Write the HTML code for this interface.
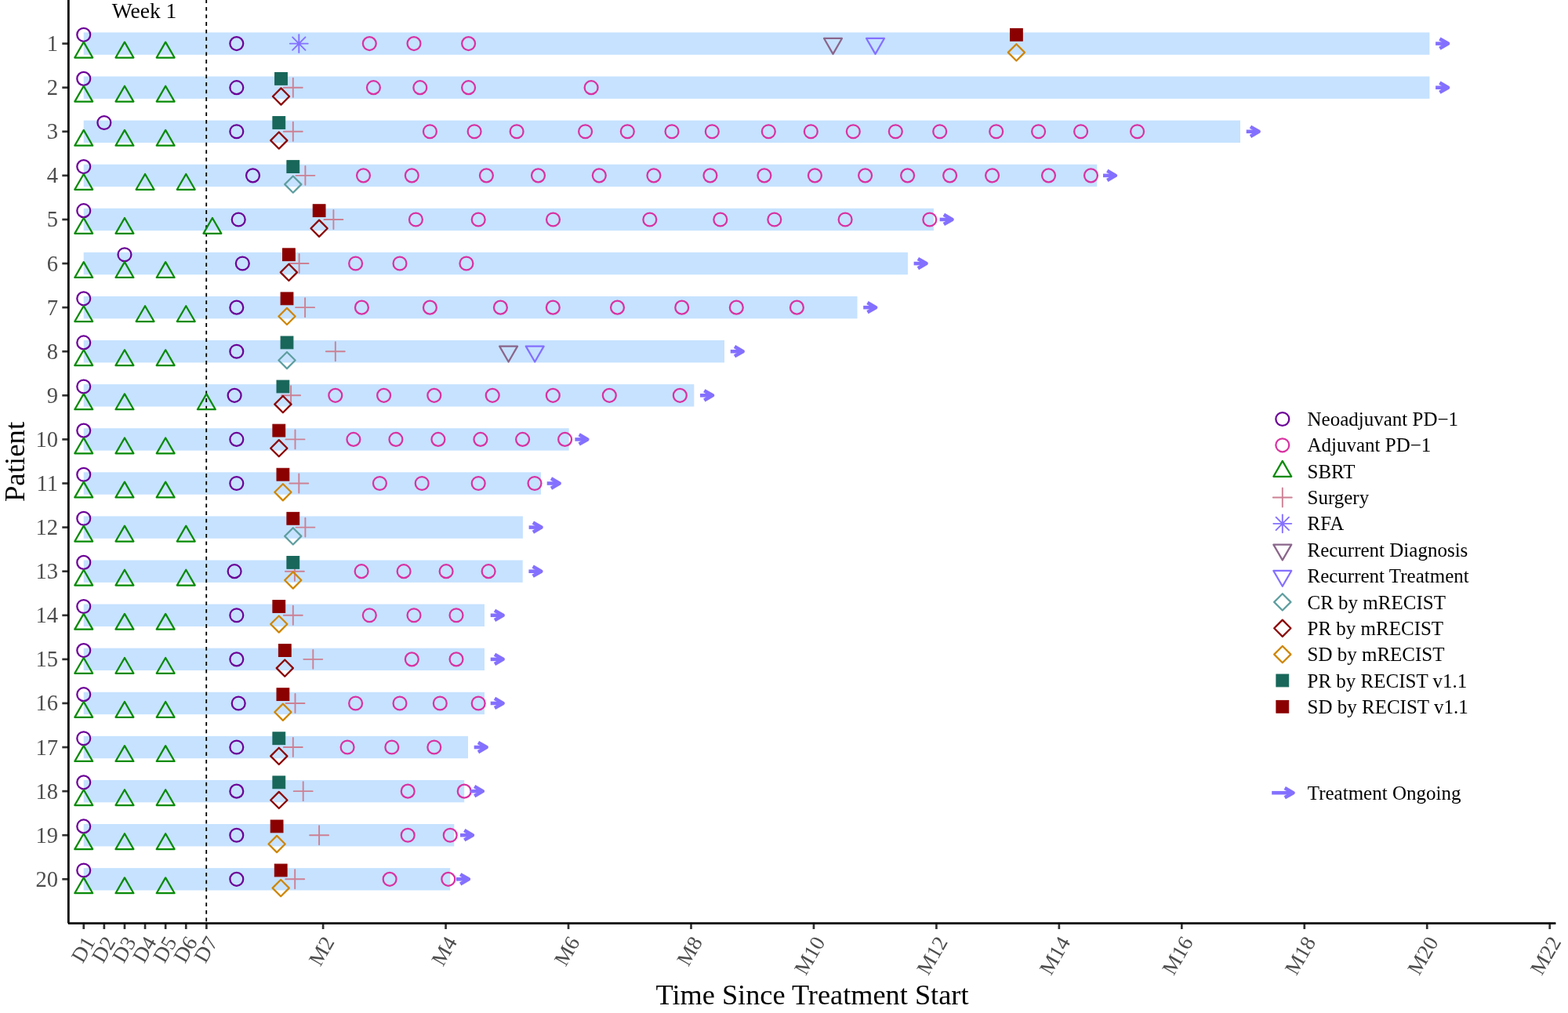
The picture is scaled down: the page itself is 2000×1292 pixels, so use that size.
<!DOCTYPE html>
<html><head><meta charset="utf-8"><title>Swimmer plot</title>
<style>
html,body{margin:0;padding:0;background:#fff;}
svg{display:block;}
text{font-family:"Liberation Serif","DejaVu Serif",serif;}
.neo{fill:none;stroke:#6C0098;stroke-width:2.25;}
.adj{fill:none;stroke:#D932A2;stroke-width:2.25;}
.sbrt{fill:none;stroke:#078A07;stroke-width:2.25;stroke-linejoin:round;}
.rdiag{fill:none;stroke:#8B668B;stroke-width:2.25;stroke-linejoin:round;}
.rtreat{fill:none;stroke:#8470FF;stroke-width:2.25;stroke-linejoin:round;}
.cr{fill:none;stroke:#5F9EA0;stroke-width:2.25;stroke-linejoin:round;}
.prm{fill:none;stroke:#8B0000;stroke-width:2.25;stroke-linejoin:round;}
.sdm{fill:none;stroke:#CF8602;stroke-width:2.25;stroke-linejoin:round;}
.prr{fill:#18675A;stroke:#18675A;stroke-width:1;}
.sdr{fill:#8B0000;stroke:#8B0000;stroke-width:1;}
.surg{fill:none;stroke:#CD8094;stroke-width:1.9;stroke-linecap:round;}
.rfa{fill:none;stroke:#8470FF;stroke-width:1.9;stroke-linecap:round;}
.arr{fill:none;stroke:#8470FF;stroke-width:4.6;}
.arrh{fill:none;stroke:#8470FF;stroke-width:4.6;stroke-linejoin:round;}
.bar{fill:#C6E2FF;}
.tk{stroke:#333;stroke-width:2.7;}
.yl{font-size:28.6px;fill:#4D4D4D;text-anchor:end;}
.xl{font-size:27px;fill:#4D4D4D;text-anchor:end;}
.lg{font-size:25px;fill:#000;}
</style></head><body>
<svg width="2000" height="1292" viewBox="0 0 2000 1292">
<rect width="2000" height="1292" fill="#fff"/>

<rect class="bar" x="106.7" y="41.4" width="1716.7" height="28.4"/>
<rect class="bar" x="106.7" y="97.49" width="1716.7" height="28.4"/>
<rect class="bar" x="106.7" y="153.58" width="1475.3" height="28.4"/>
<rect class="bar" x="106.7" y="209.67" width="1292.6" height="28.4"/>
<rect class="bar" x="106.7" y="265.76" width="1084.2" height="28.4"/>
<rect class="bar" x="106.7" y="321.85" width="1051.2" height="28.4"/>
<rect class="bar" x="106.7" y="377.94" width="986.8" height="28.4"/>
<rect class="bar" x="106.7" y="434.03" width="817.3" height="28.4"/>
<rect class="bar" x="106.7" y="490.12" width="778.6" height="28.4"/>
<rect class="bar" x="106.7" y="546.21" width="619" height="28.4"/>
<rect class="bar" x="106.7" y="602.3" width="583.3" height="28.4"/>
<rect class="bar" x="106.7" y="658.39" width="560.2" height="28.4"/>
<rect class="bar" x="106.7" y="714.48" width="560" height="28.4"/>
<rect class="bar" x="106.7" y="770.57" width="511.3" height="28.4"/>
<rect class="bar" x="106.7" y="826.66" width="511.3" height="28.4"/>
<rect class="bar" x="106.7" y="882.75" width="511.3" height="28.4"/>
<rect class="bar" x="106.7" y="938.84" width="490.3" height="28.4"/>
<rect class="bar" x="106.7" y="994.93" width="485.5" height="28.4"/>
<rect class="bar" x="106.7" y="1051.02" width="472.6" height="28.4"/>
<rect class="bar" x="106.7" y="1107.11" width="467.5" height="28.4"/>
<line x1="263.2" y1="0" x2="263.2" y2="1176" stroke="#000" stroke-width="1.8" stroke-dasharray="4.8 4.8" stroke-dashoffset="0.7"/>
<text x="184.1" y="22.9" font-size="27.5" text-anchor="middle">Week 1</text>
<circle cx="106.75" cy="44.3" r="8.45" class="neo"/>
<circle cx="301.8" cy="55.6" r="8.45" class="neo"/>
<circle cx="106.75" cy="100.39" r="8.45" class="neo"/>
<circle cx="301.8" cy="111.69" r="8.45" class="neo"/>
<circle cx="132.85" cy="156.48" r="8.45" class="neo"/>
<circle cx="301.8" cy="167.78" r="8.45" class="neo"/>
<circle cx="106.75" cy="212.57" r="8.45" class="neo"/>
<circle cx="322.5" cy="223.87" r="8.45" class="neo"/>
<circle cx="106.75" cy="268.66" r="8.45" class="neo"/>
<circle cx="304.2" cy="279.96" r="8.45" class="neo"/>
<circle cx="158.95" cy="324.75" r="8.45" class="neo"/>
<circle cx="309.3" cy="336.05" r="8.45" class="neo"/>
<circle cx="106.75" cy="380.84" r="8.45" class="neo"/>
<circle cx="301.8" cy="392.14" r="8.45" class="neo"/>
<circle cx="106.75" cy="436.93" r="8.45" class="neo"/>
<circle cx="301.8" cy="448.23" r="8.45" class="neo"/>
<circle cx="106.75" cy="493.02" r="8.45" class="neo"/>
<circle cx="299.1" cy="504.32" r="8.45" class="neo"/>
<circle cx="106.75" cy="549.11" r="8.45" class="neo"/>
<circle cx="301.8" cy="560.41" r="8.45" class="neo"/>
<circle cx="106.75" cy="605.2" r="8.45" class="neo"/>
<circle cx="301.8" cy="616.5" r="8.45" class="neo"/>
<circle cx="106.75" cy="661.29" r="8.45" class="neo"/>
<circle cx="106.75" cy="717.38" r="8.45" class="neo"/>
<circle cx="299.1" cy="728.68" r="8.45" class="neo"/>
<circle cx="106.75" cy="773.47" r="8.45" class="neo"/>
<circle cx="301.8" cy="784.77" r="8.45" class="neo"/>
<circle cx="106.75" cy="829.56" r="8.45" class="neo"/>
<circle cx="301.8" cy="840.86" r="8.45" class="neo"/>
<circle cx="106.75" cy="885.65" r="8.45" class="neo"/>
<circle cx="304.2" cy="896.95" r="8.45" class="neo"/>
<circle cx="106.75" cy="941.74" r="8.45" class="neo"/>
<circle cx="301.8" cy="953.04" r="8.45" class="neo"/>
<circle cx="106.75" cy="997.83" r="8.45" class="neo"/>
<circle cx="301.8" cy="1009.13" r="8.45" class="neo"/>
<circle cx="106.75" cy="1053.92" r="8.45" class="neo"/>
<circle cx="301.8" cy="1065.22" r="8.45" class="neo"/>
<circle cx="106.75" cy="1110.01" r="8.45" class="neo"/>
<circle cx="301.8" cy="1121.31" r="8.45" class="neo"/>
<circle cx="471.3" cy="55.6" r="8.45" class="adj"/>
<circle cx="528" cy="55.6" r="8.45" class="adj"/>
<circle cx="597.6" cy="55.6" r="8.45" class="adj"/>
<circle cx="476.4" cy="111.69" r="8.45" class="adj"/>
<circle cx="535.8" cy="111.69" r="8.45" class="adj"/>
<circle cx="597.6" cy="111.69" r="8.45" class="adj"/>
<circle cx="754.1" cy="111.69" r="8.45" class="adj"/>
<circle cx="548.4" cy="167.78" r="8.45" class="adj"/>
<circle cx="605.1" cy="167.78" r="8.45" class="adj"/>
<circle cx="659.1" cy="167.78" r="8.45" class="adj"/>
<circle cx="746.6" cy="167.78" r="8.45" class="adj"/>
<circle cx="800.3" cy="167.78" r="8.45" class="adj"/>
<circle cx="857" cy="167.78" r="8.45" class="adj"/>
<circle cx="908.3" cy="167.78" r="8.45" class="adj"/>
<circle cx="980.3" cy="167.78" r="8.45" class="adj"/>
<circle cx="1034.3" cy="167.78" r="8.45" class="adj"/>
<circle cx="1088.3" cy="167.78" r="8.45" class="adj"/>
<circle cx="1142.3" cy="167.78" r="8.45" class="adj"/>
<circle cx="1198.7" cy="167.78" r="8.45" class="adj"/>
<circle cx="1270.7" cy="167.78" r="8.45" class="adj"/>
<circle cx="1324.6" cy="167.78" r="8.45" class="adj"/>
<circle cx="1378.6" cy="167.78" r="8.45" class="adj"/>
<circle cx="1450.6" cy="167.78" r="8.45" class="adj"/>
<circle cx="463.5" cy="223.87" r="8.45" class="adj"/>
<circle cx="525.3" cy="223.87" r="8.45" class="adj"/>
<circle cx="620.4" cy="223.87" r="8.45" class="adj"/>
<circle cx="686.5" cy="223.87" r="8.45" class="adj"/>
<circle cx="764.3" cy="223.87" r="8.45" class="adj"/>
<circle cx="833.9" cy="223.87" r="8.45" class="adj"/>
<circle cx="905.9" cy="223.87" r="8.45" class="adj"/>
<circle cx="974.9" cy="223.87" r="8.45" class="adj"/>
<circle cx="1039.4" cy="223.87" r="8.45" class="adj"/>
<circle cx="1103.6" cy="223.87" r="8.45" class="adj"/>
<circle cx="1157.6" cy="223.87" r="8.45" class="adj"/>
<circle cx="1211.6" cy="223.87" r="8.45" class="adj"/>
<circle cx="1265.6" cy="223.87" r="8.45" class="adj"/>
<circle cx="1337.5" cy="223.87" r="8.45" class="adj"/>
<circle cx="1391.5" cy="223.87" r="8.45" class="adj"/>
<circle cx="530.4" cy="279.96" r="8.45" class="adj"/>
<circle cx="610.2" cy="279.96" r="8.45" class="adj"/>
<circle cx="705.5" cy="279.96" r="8.45" class="adj"/>
<circle cx="828.8" cy="279.96" r="8.45" class="adj"/>
<circle cx="918.8" cy="279.96" r="8.45" class="adj"/>
<circle cx="987.8" cy="279.96" r="8.45" class="adj"/>
<circle cx="1078.1" cy="279.96" r="8.45" class="adj"/>
<circle cx="1185.8" cy="279.96" r="8.45" class="adj"/>
<circle cx="453.6" cy="336.05" r="8.45" class="adj"/>
<circle cx="510" cy="336.05" r="8.45" class="adj"/>
<circle cx="594.9" cy="336.05" r="8.45" class="adj"/>
<circle cx="461.4" cy="392.14" r="8.45" class="adj"/>
<circle cx="548.4" cy="392.14" r="8.45" class="adj"/>
<circle cx="638.4" cy="392.14" r="8.45" class="adj"/>
<circle cx="705.3" cy="392.14" r="8.45" class="adj"/>
<circle cx="787.5" cy="392.14" r="8.45" class="adj"/>
<circle cx="869.7" cy="392.14" r="8.45" class="adj"/>
<circle cx="939.3" cy="392.14" r="8.45" class="adj"/>
<circle cx="1016.4" cy="392.14" r="8.45" class="adj"/>
<circle cx="427.8" cy="504.32" r="8.45" class="adj"/>
<circle cx="489.6" cy="504.32" r="8.45" class="adj"/>
<circle cx="553.8" cy="504.32" r="8.45" class="adj"/>
<circle cx="628.2" cy="504.32" r="8.45" class="adj"/>
<circle cx="705.3" cy="504.32" r="8.45" class="adj"/>
<circle cx="777.3" cy="504.32" r="8.45" class="adj"/>
<circle cx="867.3" cy="504.32" r="8.45" class="adj"/>
<circle cx="450.9" cy="560.41" r="8.45" class="adj"/>
<circle cx="504.9" cy="560.41" r="8.45" class="adj"/>
<circle cx="558.9" cy="560.41" r="8.45" class="adj"/>
<circle cx="612.9" cy="560.41" r="8.45" class="adj"/>
<circle cx="666.6" cy="560.41" r="8.45" class="adj"/>
<circle cx="720.6" cy="560.41" r="8.45" class="adj"/>
<circle cx="484.4" cy="616.5" r="8.45" class="adj"/>
<circle cx="538.2" cy="616.5" r="8.45" class="adj"/>
<circle cx="610.2" cy="616.5" r="8.45" class="adj"/>
<circle cx="682" cy="616.5" r="8.45" class="adj"/>
<circle cx="461.1" cy="728.68" r="8.45" class="adj"/>
<circle cx="515.1" cy="728.68" r="8.45" class="adj"/>
<circle cx="569.1" cy="728.68" r="8.45" class="adj"/>
<circle cx="623.1" cy="728.68" r="8.45" class="adj"/>
<circle cx="471.3" cy="784.77" r="8.45" class="adj"/>
<circle cx="528" cy="784.77" r="8.45" class="adj"/>
<circle cx="582" cy="784.77" r="8.45" class="adj"/>
<circle cx="525.3" cy="840.86" r="8.45" class="adj"/>
<circle cx="582" cy="840.86" r="8.45" class="adj"/>
<circle cx="453.6" cy="896.95" r="8.45" class="adj"/>
<circle cx="510" cy="896.95" r="8.45" class="adj"/>
<circle cx="561.3" cy="896.95" r="8.45" class="adj"/>
<circle cx="610.2" cy="896.95" r="8.45" class="adj"/>
<circle cx="443.1" cy="953.04" r="8.45" class="adj"/>
<circle cx="499.8" cy="953.04" r="8.45" class="adj"/>
<circle cx="553.8" cy="953.04" r="8.45" class="adj"/>
<circle cx="520.2" cy="1009.13" r="8.45" class="adj"/>
<circle cx="592.2" cy="1009.13" r="8.45" class="adj"/>
<circle cx="520.2" cy="1065.22" r="8.45" class="adj"/>
<circle cx="574.2" cy="1065.22" r="8.45" class="adj"/>
<circle cx="497.1" cy="1121.31" r="8.45" class="adj"/>
<circle cx="571.8" cy="1121.31" r="8.45" class="adj"/>
<polygon points="106.75,53.68 118.2,73.51 95.3,73.51" class="sbrt"/>
<polygon points="158.95,53.68 170.4,73.51 147.5,73.51" class="sbrt"/>
<polygon points="211.15,53.68 222.6,73.51 199.7,73.51" class="sbrt"/>
<polygon points="106.75,109.77 118.2,129.6 95.3,129.6" class="sbrt"/>
<polygon points="158.95,109.77 170.4,129.6 147.5,129.6" class="sbrt"/>
<polygon points="211.15,109.77 222.6,129.6 199.7,129.6" class="sbrt"/>
<polygon points="106.75,165.86 118.2,185.69 95.3,185.69" class="sbrt"/>
<polygon points="158.95,165.86 170.4,185.69 147.5,185.69" class="sbrt"/>
<polygon points="211.15,165.86 222.6,185.69 199.7,185.69" class="sbrt"/>
<polygon points="106.75,221.95 118.2,241.78 95.3,241.78" class="sbrt"/>
<polygon points="185.05,221.95 196.5,241.78 173.6,241.78" class="sbrt"/>
<polygon points="237.25,221.95 248.7,241.78 225.8,241.78" class="sbrt"/>
<polygon points="106.75,278.04 118.2,297.87 95.3,297.87" class="sbrt"/>
<polygon points="158.95,278.04 170.4,297.87 147.5,297.87" class="sbrt"/>
<polygon points="270.9,278.04 282.35,297.87 259.45,297.87" class="sbrt"/>
<polygon points="106.75,334.13 118.2,353.96 95.3,353.96" class="sbrt"/>
<polygon points="158.95,334.13 170.4,353.96 147.5,353.96" class="sbrt"/>
<polygon points="211.15,334.13 222.6,353.96 199.7,353.96" class="sbrt"/>
<polygon points="106.75,390.22 118.2,410.05 95.3,410.05" class="sbrt"/>
<polygon points="185.05,390.22 196.5,410.05 173.6,410.05" class="sbrt"/>
<polygon points="237.25,390.22 248.7,410.05 225.8,410.05" class="sbrt"/>
<polygon points="106.75,446.31 118.2,466.14 95.3,466.14" class="sbrt"/>
<polygon points="158.95,446.31 170.4,466.14 147.5,466.14" class="sbrt"/>
<polygon points="211.15,446.31 222.6,466.14 199.7,466.14" class="sbrt"/>
<polygon points="106.75,502.4 118.2,522.23 95.3,522.23" class="sbrt"/>
<polygon points="158.95,502.4 170.4,522.23 147.5,522.23" class="sbrt"/>
<polygon points="263.35,502.4 274.8,522.23 251.9,522.23" class="sbrt"/>
<polygon points="106.75,558.49 118.2,578.32 95.3,578.32" class="sbrt"/>
<polygon points="158.95,558.49 170.4,578.32 147.5,578.32" class="sbrt"/>
<polygon points="211.15,558.49 222.6,578.32 199.7,578.32" class="sbrt"/>
<polygon points="106.75,614.58 118.2,634.41 95.3,634.41" class="sbrt"/>
<polygon points="158.95,614.58 170.4,634.41 147.5,634.41" class="sbrt"/>
<polygon points="211.15,614.58 222.6,634.41 199.7,634.41" class="sbrt"/>
<polygon points="106.75,670.67 118.2,690.5 95.3,690.5" class="sbrt"/>
<polygon points="158.95,670.67 170.4,690.5 147.5,690.5" class="sbrt"/>
<polygon points="237.25,670.67 248.7,690.5 225.8,690.5" class="sbrt"/>
<polygon points="106.75,726.76 118.2,746.59 95.3,746.59" class="sbrt"/>
<polygon points="158.95,726.76 170.4,746.59 147.5,746.59" class="sbrt"/>
<polygon points="237.25,726.76 248.7,746.59 225.8,746.59" class="sbrt"/>
<polygon points="106.75,782.85 118.2,802.68 95.3,802.68" class="sbrt"/>
<polygon points="158.95,782.85 170.4,802.68 147.5,802.68" class="sbrt"/>
<polygon points="211.15,782.85 222.6,802.68 199.7,802.68" class="sbrt"/>
<polygon points="106.75,838.94 118.2,858.77 95.3,858.77" class="sbrt"/>
<polygon points="158.95,838.94 170.4,858.77 147.5,858.77" class="sbrt"/>
<polygon points="211.15,838.94 222.6,858.77 199.7,858.77" class="sbrt"/>
<polygon points="106.75,895.03 118.2,914.86 95.3,914.86" class="sbrt"/>
<polygon points="158.95,895.03 170.4,914.86 147.5,914.86" class="sbrt"/>
<polygon points="211.15,895.03 222.6,914.86 199.7,914.86" class="sbrt"/>
<polygon points="106.75,951.12 118.2,970.95 95.3,970.95" class="sbrt"/>
<polygon points="158.95,951.12 170.4,970.95 147.5,970.95" class="sbrt"/>
<polygon points="211.15,951.12 222.6,970.95 199.7,970.95" class="sbrt"/>
<polygon points="106.75,1007.21 118.2,1027.04 95.3,1027.04" class="sbrt"/>
<polygon points="158.95,1007.21 170.4,1027.04 147.5,1027.04" class="sbrt"/>
<polygon points="211.15,1007.21 222.6,1027.04 199.7,1027.04" class="sbrt"/>
<polygon points="106.75,1063.3 118.2,1083.13 95.3,1083.13" class="sbrt"/>
<polygon points="158.95,1063.3 170.4,1083.13 147.5,1083.13" class="sbrt"/>
<polygon points="211.15,1063.3 222.6,1083.13 199.7,1083.13" class="sbrt"/>
<polygon points="106.75,1119.39 118.2,1139.22 95.3,1139.22" class="sbrt"/>
<polygon points="158.95,1119.39 170.4,1139.22 147.5,1139.22" class="sbrt"/>
<polygon points="211.15,1119.39 222.6,1139.22 199.7,1139.22" class="sbrt"/>
<path d="M361.8 111.69H385.8M373.8 99.69V123.69" class="surg"/>
<path d="M361.8 167.78H385.8M373.8 155.78V179.78" class="surg"/>
<path d="M377.4 223.87H401.4M389.4 211.87V235.87" class="surg"/>
<path d="M413.4 279.96H437.4M425.4 267.96V291.96" class="surg"/>
<path d="M369.6 336.05H393.6M381.6 324.05V348.05" class="surg"/>
<path d="M377.1 392.14H401.1M389.1 380.14V404.14" class="surg"/>
<path d="M415.8 448.23H439.8M427.8 436.23V460.23" class="surg"/>
<path d="M359.1 504.32H383.1M371.1 492.32V516.32" class="surg"/>
<path d="M364.5 560.41H388.5M376.5 548.41V572.41" class="surg"/>
<path d="M369.3 616.5H393.3M381.3 604.5V628.5" class="surg"/>
<path d="M377.4 672.59H401.4M389.4 660.59V684.59" class="surg"/>
<path d="M363.9 728.68H387.9M375.9 716.68V740.68" class="surg"/>
<path d="M361.8 784.77H385.8M373.8 772.77V796.77" class="surg"/>
<path d="M387.3 840.86H411.3M399.3 828.86V852.86" class="surg"/>
<path d="M364.5 896.95H388.5M376.5 884.95V908.95" class="surg"/>
<path d="M361.8 953.04H385.8M373.8 941.04V965.04" class="surg"/>
<path d="M374.7 1009.13H398.7M386.7 997.13V1021.13" class="surg"/>
<path d="M395.1 1065.22H419.1M407.1 1053.22V1077.22" class="surg"/>
<path d="M364.2 1121.31H388.2M376.2 1109.31V1133.31" class="surg"/>
<path d="M369.8 55.6H392.8M381.3 44.1V67.1M373.1 47.4L389.5 63.8M373.1 63.8L389.5 47.4" class="rfa"/>
<polygon points="1062.5,68.82 1073.95,48.99 1051.05,48.99" class="rdiag"/>
<polygon points="648.6,461.45 660.05,441.62 637.15,441.62" class="rdiag"/>
<polygon points="1116.5,68.82 1127.95,48.99 1105.05,48.99" class="rtreat"/>
<polygon points="682.2,461.45 693.65,441.62 670.75,441.62" class="rtreat"/>
<polygon points="373.8,224.57 384.4,235.17 373.8,245.77 363.2,235.17" class="cr"/>
<polygon points="366,448.93 376.6,459.53 366,470.13 355.4,459.53" class="cr"/>
<polygon points="373.8,673.29 384.4,683.89 373.8,694.49 363.2,683.89" class="cr"/>
<polygon points="358.5,112.39 369.1,122.99 358.5,133.59 347.9,122.99" class="prm"/>
<polygon points="355.8,168.48 366.4,179.08 355.8,189.68 345.2,179.08" class="prm"/>
<polygon points="407.1,280.66 417.7,291.26 407.1,301.86 396.5,291.26" class="prm"/>
<polygon points="368.4,336.75 379,347.35 368.4,357.95 357.8,347.35" class="prm"/>
<polygon points="360.9,505.02 371.5,515.62 360.9,526.22 350.3,515.62" class="prm"/>
<polygon points="355.8,561.11 366.4,571.71 355.8,582.31 345.2,571.71" class="prm"/>
<polygon points="363.3,841.56 373.9,852.16 363.3,862.76 352.7,852.16" class="prm"/>
<polygon points="355.8,953.74 366.4,964.34 355.8,974.94 345.2,964.34" class="prm"/>
<polygon points="355.8,1009.83 366.4,1020.43 355.8,1031.03 345.2,1020.43" class="prm"/>
<polygon points="1296.4,56.3 1307,66.9 1296.4,77.5 1285.8,66.9" class="sdm"/>
<polygon points="366,392.84 376.6,403.44 366,414.04 355.4,403.44" class="sdm"/>
<polygon points="360.9,617.2 371.5,627.8 360.9,638.4 350.3,627.8" class="sdm"/>
<polygon points="373.8,729.38 384.4,739.98 373.8,750.58 363.2,739.98" class="sdm"/>
<polygon points="355.8,785.47 366.4,796.07 355.8,806.67 345.2,796.07" class="sdm"/>
<polygon points="360.9,897.65 371.5,908.25 360.9,918.85 350.3,908.25" class="sdm"/>
<polygon points="353.1,1065.92 363.7,1076.52 353.1,1087.12 342.5,1076.52" class="sdm"/>
<polygon points="358.2,1122.01 368.8,1132.61 358.2,1143.21 347.6,1132.61" class="sdm"/>
<rect x="350.6" y="92.49" width="15.8" height="15.8" class="prr"/>
<rect x="347.9" y="148.58" width="15.8" height="15.8" class="prr"/>
<rect x="365.9" y="204.67" width="15.8" height="15.8" class="prr"/>
<rect x="358.1" y="429.03" width="15.8" height="15.8" class="prr"/>
<rect x="353" y="485.12" width="15.8" height="15.8" class="prr"/>
<rect x="365.9" y="709.48" width="15.8" height="15.8" class="prr"/>
<rect x="347.9" y="933.84" width="15.8" height="15.8" class="prr"/>
<rect x="347.9" y="989.93" width="15.8" height="15.8" class="prr"/>
<rect x="1288.5" y="36.4" width="15.8" height="15.8" class="sdr"/>
<rect x="399.2" y="260.76" width="15.8" height="15.8" class="sdr"/>
<rect x="360.5" y="316.85" width="15.8" height="15.8" class="sdr"/>
<rect x="358.1" y="372.94" width="15.8" height="15.8" class="sdr"/>
<rect x="347.9" y="541.21" width="15.8" height="15.8" class="sdr"/>
<rect x="353" y="597.3" width="15.8" height="15.8" class="sdr"/>
<rect x="365.9" y="653.39" width="15.8" height="15.8" class="sdr"/>
<rect x="347.9" y="765.57" width="15.8" height="15.8" class="sdr"/>
<rect x="355.4" y="821.66" width="15.8" height="15.8" class="sdr"/>
<rect x="353" y="877.75" width="15.8" height="15.8" class="sdr"/>
<rect x="345.2" y="1046.02" width="15.8" height="15.8" class="sdr"/>
<rect x="350.3" y="1102.11" width="15.8" height="15.8" class="sdr"/>
<path d="M1831.1 55.6H1845.5" class="arr"/><path d="M1836.35 49.45L1847 55.6L1836.35 61.75" class="arrh"/>
<path d="M1831.1 111.69H1845.5" class="arr"/><path d="M1836.35 105.54L1847 111.69L1836.35 117.84" class="arrh"/>
<path d="M1589.7 167.78H1604.1" class="arr"/><path d="M1594.95 161.63L1605.6 167.78L1594.95 173.93" class="arrh"/>
<path d="M1407 223.87H1421.4" class="arr"/><path d="M1412.25 217.72L1422.9 223.87L1412.25 230.02" class="arrh"/>
<path d="M1198.6 279.96H1213" class="arr"/><path d="M1203.85 273.81L1214.5 279.96L1203.85 286.11" class="arrh"/>
<path d="M1165.6 336.05H1180" class="arr"/><path d="M1170.85 329.9L1181.5 336.05L1170.85 342.2" class="arrh"/>
<path d="M1101.2 392.14H1115.6" class="arr"/><path d="M1106.45 385.99L1117.1 392.14L1106.45 398.29" class="arrh"/>
<path d="M931.7 448.23H946.1" class="arr"/><path d="M936.95 442.08L947.6 448.23L936.95 454.38" class="arrh"/>
<path d="M893 504.32H907.4" class="arr"/><path d="M898.25 498.17L908.9 504.32L898.25 510.47" class="arrh"/>
<path d="M733.4 560.41H747.8" class="arr"/><path d="M738.65 554.26L749.3 560.41L738.65 566.56" class="arrh"/>
<path d="M697.7 616.5H712.1" class="arr"/><path d="M702.95 610.35L713.6 616.5L702.95 622.65" class="arrh"/>
<path d="M674.6 672.59H689" class="arr"/><path d="M679.85 666.44L690.5 672.59L679.85 678.74" class="arrh"/>
<path d="M674.4 728.68H688.8" class="arr"/><path d="M679.65 722.53L690.3 728.68L679.65 734.83" class="arrh"/>
<path d="M625.7 784.77H640.1" class="arr"/><path d="M630.95 778.62L641.6 784.77L630.95 790.92" class="arrh"/>
<path d="M625.7 840.86H640.1" class="arr"/><path d="M630.95 834.71L641.6 840.86L630.95 847.01" class="arrh"/>
<path d="M625.7 896.95H640.1" class="arr"/><path d="M630.95 890.8L641.6 896.95L630.95 903.1" class="arrh"/>
<path d="M604.7 953.04H619.1" class="arr"/><path d="M609.95 946.89L620.6 953.04L609.95 959.19" class="arrh"/>
<path d="M599.9 1009.13H614.3" class="arr"/><path d="M605.15 1002.98L615.8 1009.13L605.15 1015.28" class="arrh"/>
<path d="M587 1065.22H601.4" class="arr"/><path d="M592.25 1059.07L602.9 1065.22L592.25 1071.37" class="arrh"/>
<path d="M581.9 1121.31H596.3" class="arr"/><path d="M587.15 1115.16L597.8 1121.31L587.15 1127.46" class="arrh"/>
<path d="M87.35 0V1177.6" fill="none" stroke="#000" stroke-width="2.75"/>
<path d="M86.9 1177.7H1984.4" fill="none" stroke="#000" stroke-width="2.75"/>
<line class="tk" x1="79.3" y1="55.6" x2="86" y2="55.6"/>
<text class="yl" x="74" y="65.1">1</text>
<line class="tk" x1="79.3" y1="111.69" x2="86" y2="111.69"/>
<text class="yl" x="74" y="121.19">2</text>
<line class="tk" x1="79.3" y1="167.78" x2="86" y2="167.78"/>
<text class="yl" x="74" y="177.28">3</text>
<line class="tk" x1="79.3" y1="223.87" x2="86" y2="223.87"/>
<text class="yl" x="74" y="233.37">4</text>
<line class="tk" x1="79.3" y1="279.96" x2="86" y2="279.96"/>
<text class="yl" x="74" y="289.46">5</text>
<line class="tk" x1="79.3" y1="336.05" x2="86" y2="336.05"/>
<text class="yl" x="74" y="345.55">6</text>
<line class="tk" x1="79.3" y1="392.14" x2="86" y2="392.14"/>
<text class="yl" x="74" y="401.64">7</text>
<line class="tk" x1="79.3" y1="448.23" x2="86" y2="448.23"/>
<text class="yl" x="74" y="457.73">8</text>
<line class="tk" x1="79.3" y1="504.32" x2="86" y2="504.32"/>
<text class="yl" x="74" y="513.82">9</text>
<line class="tk" x1="79.3" y1="560.41" x2="86" y2="560.41"/>
<text class="yl" x="74" y="569.91">10</text>
<line class="tk" x1="79.3" y1="616.5" x2="86" y2="616.5"/>
<text class="yl" x="74" y="626">11</text>
<line class="tk" x1="79.3" y1="672.59" x2="86" y2="672.59"/>
<text class="yl" x="74" y="682.09">12</text>
<line class="tk" x1="79.3" y1="728.68" x2="86" y2="728.68"/>
<text class="yl" x="74" y="738.18">13</text>
<line class="tk" x1="79.3" y1="784.77" x2="86" y2="784.77"/>
<text class="yl" x="74" y="794.27">14</text>
<line class="tk" x1="79.3" y1="840.86" x2="86" y2="840.86"/>
<text class="yl" x="74" y="850.36">15</text>
<line class="tk" x1="79.3" y1="896.95" x2="86" y2="896.95"/>
<text class="yl" x="74" y="906.45">16</text>
<line class="tk" x1="79.3" y1="953.04" x2="86" y2="953.04"/>
<text class="yl" x="74" y="962.54">17</text>
<line class="tk" x1="79.3" y1="1009.13" x2="86" y2="1009.13"/>
<text class="yl" x="74" y="1018.63">18</text>
<line class="tk" x1="79.3" y1="1065.22" x2="86" y2="1065.22"/>
<text class="yl" x="74" y="1074.72">19</text>
<line class="tk" x1="79.3" y1="1121.31" x2="86" y2="1121.31"/>
<text class="yl" x="74" y="1130.81">20</text>
<line class="tk" x1="106.75" y1="1178.6" x2="106.75" y2="1185" />
<text class="xl" transform="translate(106.05 1192) rotate(-60)" dy="0.68em">D1</text>
<line class="tk" x1="132.85" y1="1178.6" x2="132.85" y2="1185" />
<text class="xl" transform="translate(132.15 1192) rotate(-60)" dy="0.68em">D2</text>
<line class="tk" x1="158.95" y1="1178.6" x2="158.95" y2="1185" />
<text class="xl" transform="translate(158.25 1192) rotate(-60)" dy="0.68em">D3</text>
<line class="tk" x1="185.05" y1="1178.6" x2="185.05" y2="1185" />
<text class="xl" transform="translate(184.35 1192) rotate(-60)" dy="0.68em">D4</text>
<line class="tk" x1="211.15" y1="1178.6" x2="211.15" y2="1185" />
<text class="xl" transform="translate(210.45 1192) rotate(-60)" dy="0.68em">D5</text>
<line class="tk" x1="237.25" y1="1178.6" x2="237.25" y2="1185" />
<text class="xl" transform="translate(236.55 1192) rotate(-60)" dy="0.68em">D6</text>
<line class="tk" x1="263.35" y1="1178.6" x2="263.35" y2="1185" />
<text class="xl" transform="translate(262.65 1192) rotate(-60)" dy="0.68em">D7</text>
<line class="tk" x1="412.1" y1="1178.6" x2="412.1" y2="1185" />
<text class="xl" transform="translate(411.4 1192) rotate(-60)" dy="0.68em">M2</text>
<line class="tk" x1="568.56" y1="1178.6" x2="568.56" y2="1185" />
<text class="xl" transform="translate(567.86 1192) rotate(-60)" dy="0.68em">M4</text>
<line class="tk" x1="725.02" y1="1178.6" x2="725.02" y2="1185" />
<text class="xl" transform="translate(724.32 1192) rotate(-60)" dy="0.68em">M6</text>
<line class="tk" x1="881.48" y1="1178.6" x2="881.48" y2="1185" />
<text class="xl" transform="translate(880.78 1192) rotate(-60)" dy="0.68em">M8</text>
<line class="tk" x1="1037.94" y1="1178.6" x2="1037.94" y2="1185" />
<text class="xl" transform="translate(1037.24 1192) rotate(-60)" dy="0.68em">M10</text>
<line class="tk" x1="1194.4" y1="1178.6" x2="1194.4" y2="1185" />
<text class="xl" transform="translate(1193.7 1192) rotate(-60)" dy="0.68em">M12</text>
<line class="tk" x1="1350.86" y1="1178.6" x2="1350.86" y2="1185" />
<text class="xl" transform="translate(1350.16 1192) rotate(-60)" dy="0.68em">M14</text>
<line class="tk" x1="1507.32" y1="1178.6" x2="1507.32" y2="1185" />
<text class="xl" transform="translate(1506.62 1192) rotate(-60)" dy="0.68em">M16</text>
<line class="tk" x1="1663.78" y1="1178.6" x2="1663.78" y2="1185" />
<text class="xl" transform="translate(1663.08 1192) rotate(-60)" dy="0.68em">M18</text>
<line class="tk" x1="1820.24" y1="1178.6" x2="1820.24" y2="1185" />
<text class="xl" transform="translate(1819.54 1192) rotate(-60)" dy="0.68em">M20</text>
<line class="tk" x1="1976.7" y1="1178.6" x2="1976.7" y2="1185" />
<text class="xl" transform="translate(1976 1192) rotate(-60)" dy="0.68em">M22</text>
<text x="1036" y="1280.7" font-size="36.3" text-anchor="middle">Time Since Treatment Start</text>
<text transform="translate(31.3 589) rotate(-90)" font-size="36.8" text-anchor="middle">Patient</text>
<circle cx="1635.8" cy="534.45" r="8.45" class="neo"/>
<text class="lg" x="1667.5" y="543.05">Neoadjuvant PD−1</text>
<circle cx="1635.8" cy="567.8" r="8.45" class="adj"/>
<text class="lg" x="1667.5" y="576.4">Adjuvant PD−1</text>
<polygon points="1635.8,587.93 1647.25,607.76 1624.35,607.76" class="sbrt"/>
<text class="lg" x="1667.5" y="609.75">SBRT</text>
<path d="M1623.8 634.5H1647.8M1635.8 622.5V646.5" class="surg"/>
<text class="lg" x="1667.5" y="643.1">Surgery</text>
<path d="M1624.3 667.85H1647.3M1635.8 656.35V679.35M1627.6 659.65L1644 676.05M1627.6 676.05L1644 659.65" class="rfa"/>
<text class="lg" x="1667.5" y="676.45">RFA</text>
<polygon points="1635.8,714.42 1647.25,694.59 1624.35,694.59" class="rdiag"/>
<text class="lg" x="1667.5" y="709.8">Recurrent Diagnosis</text>
<polygon points="1635.8,747.77 1647.25,727.94 1624.35,727.94" class="rtreat"/>
<text class="lg" x="1667.5" y="743.15">Recurrent Treatment</text>
<polygon points="1635.8,757.3 1646.4,767.9 1635.8,778.5 1625.2,767.9" class="cr"/>
<text class="lg" x="1667.5" y="776.5">CR by mRECIST</text>
<polygon points="1635.8,790.65 1646.4,801.25 1635.8,811.85 1625.2,801.25" class="prm"/>
<text class="lg" x="1667.5" y="809.85">PR by mRECIST</text>
<polygon points="1635.8,824 1646.4,834.6 1635.8,845.2 1625.2,834.6" class="sdm"/>
<text class="lg" x="1667.5" y="843.2">SD by mRECIST</text>
<rect x="1627.9" y="860.05" width="15.8" height="15.8" class="prr"/>
<text class="lg" x="1667.5" y="876.55">PR by RECIST v1.1</text>
<rect x="1627.9" y="893.4" width="15.8" height="15.8" class="sdr"/>
<text class="lg" x="1667.5" y="909.9">SD by RECIST v1.1</text>
<path d="M1622.2 1011.2H1646" class="arr"/>
<path d="M1638.75 1005.05L1649.4 1011.2L1638.75 1017.35" class="arrh"/>
<text class="lg" x="1667.8" y="1020.2">Treatment Ongoing</text>
</svg>
</body></html>
